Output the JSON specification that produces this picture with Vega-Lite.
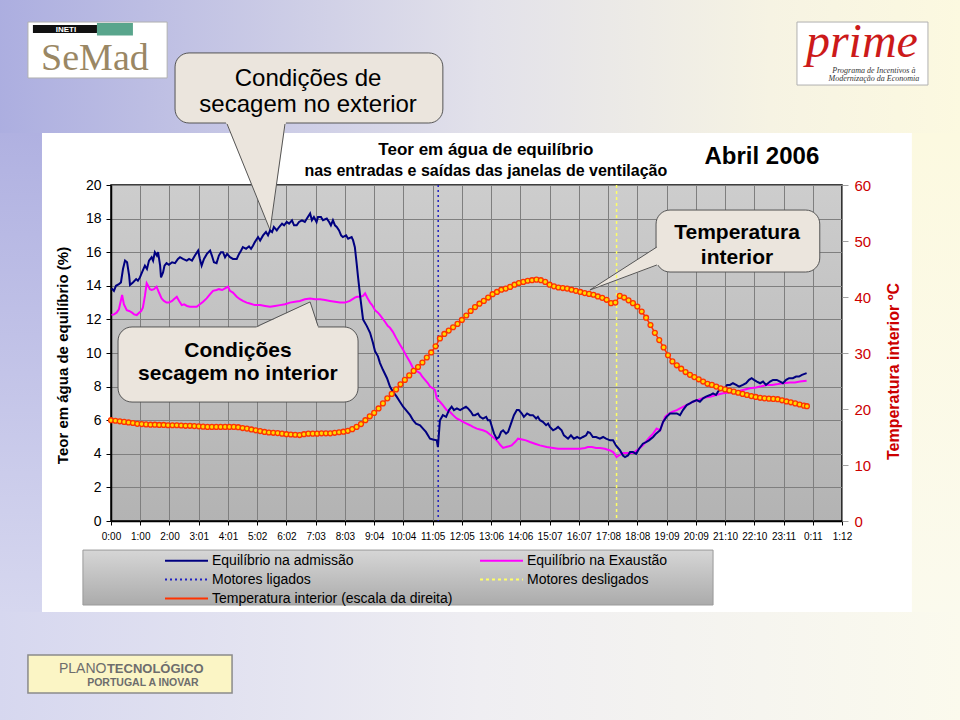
{
"$schema":"https://vega.github.io/schema/vega-lite/v6.json",
"width":731,"height":336,
"autosize":{"type":"none"},
"padding":{"left":111,"top":185,"right":118,"bottom":199},
"background":"#ffffff",
"config":{"font":"Liberation Sans","view":{"stroke":"#000000","strokeWidth":1.5,"fill":{"gradient":"linear","x1":0,"y1":0,"x2":0,"y2":1,"stops":[{"offset":0,"color":"#cdcdcd"},{"offset":1,"color":"#b3b3b3"}]}}},
"datasets":{
"adm":[{"t":0.02,"v":13.85},{"t":0.10,"v":13.7},{"t":0.17,"v":14.0},{"t":0.27,"v":14.1},{"t":0.34,"v":14.2},{"t":0.41,"v":15.0},{"t":0.48,"v":15.5},{"t":0.55,"v":15.4},{"t":0.62,"v":14.6},{"t":0.65,"v":14.05},{"t":0.75,"v":14.2},{"t":0.86,"v":14.4},{"t":0.92,"v":14.3},{"t":0.99,"v":14.5},{"t":1.06,"v":14.8},{"t":1.16,"v":15.2},{"t":1.23,"v":15.0},{"t":1.30,"v":15.5},{"t":1.39,"v":15.7},{"t":1.44,"v":15.5},{"t":1.50,"v":16.0},{"t":1.57,"v":15.8},{"t":1.61,"v":16.0},{"t":1.68,"v":15.2},{"t":1.71,"v":14.5},{"t":1.78,"v":14.8},{"t":1.83,"v":15.2},{"t":1.90,"v":15.35},{"t":1.98,"v":15.25},{"t":2.09,"v":15.4},{"t":2.19,"v":15.35},{"t":2.29,"v":15.6},{"t":2.36,"v":15.7},{"t":2.46,"v":15.6},{"t":2.59,"v":15.5},{"t":2.67,"v":15.6},{"t":2.77,"v":15.5},{"t":2.87,"v":15.8},{"t":2.98,"v":16.1},{"t":3.04,"v":15.6},{"t":3.10,"v":15.2},{"t":3.18,"v":15.6},{"t":3.28,"v":15.9},{"t":3.39,"v":16.1},{"t":3.45,"v":15.8},{"t":3.52,"v":15.4},{"t":3.61,"v":15.35},{"t":3.69,"v":15.8},{"t":3.76,"v":16.0},{"t":3.83,"v":16.0},{"t":3.90,"v":15.7},{"t":3.97,"v":15.9},{"t":4.07,"v":15.7},{"t":4.17,"v":15.6},{"t":4.30,"v":15.6},{"t":4.38,"v":15.9},{"t":4.45,"v":16.1},{"t":4.51,"v":16.3},{"t":4.62,"v":16.2},{"t":4.72,"v":16.35},{"t":4.79,"v":16.2},{"t":4.86,"v":16.4},{"t":4.92,"v":16.6},{"t":5.03,"v":16.9},{"t":5.10,"v":16.7},{"t":5.20,"v":17.0},{"t":5.30,"v":17.2},{"t":5.37,"v":17.0},{"t":5.44,"v":17.3},{"t":5.51,"v":17.2},{"t":5.57,"v":17.5},{"t":5.67,"v":17.3},{"t":5.75,"v":17.5},{"t":5.85,"v":17.7},{"t":5.92,"v":17.6},{"t":6.01,"v":17.8},{"t":6.09,"v":17.7},{"t":6.19,"v":17.9},{"t":6.26,"v":17.6},{"t":6.35,"v":17.6},{"t":6.43,"v":17.8},{"t":6.53,"v":17.9},{"t":6.63,"v":17.8},{"t":6.70,"v":18.0},{"t":6.81,"v":18.3},{"t":6.87,"v":17.9},{"t":6.94,"v":18.1},{"t":7.03,"v":17.8},{"t":7.08,"v":18.1},{"t":7.18,"v":18.1},{"t":7.25,"v":17.9},{"t":7.38,"v":18.0},{"t":7.46,"v":17.8},{"t":7.52,"v":17.6},{"t":7.59,"v":17.9},{"t":7.66,"v":17.6},{"t":7.72,"v":17.5},{"t":7.80,"v":17.3},{"t":7.87,"v":17.0},{"t":7.93,"v":16.9},{"t":8.04,"v":17.0},{"t":8.11,"v":16.8},{"t":8.23,"v":16.9},{"t":8.28,"v":16.7},{"t":8.34,"v":16.3},{"t":8.40,"v":15.35},{"t":8.45,"v":14.5},{"t":8.52,"v":13.4},{"t":8.62,"v":12.0},{"t":8.75,"v":11.6},{"t":8.86,"v":11.2},{"t":8.96,"v":10.6},{"t":9.03,"v":10.1},{"t":9.13,"v":9.8},{"t":9.20,"v":9.4},{"t":9.30,"v":9.0},{"t":9.44,"v":8.5},{"t":9.54,"v":8.0},{"t":9.64,"v":7.7},{"t":9.77,"v":7.4},{"t":9.88,"v":7.1},{"t":9.99,"v":6.8},{"t":10.09,"v":6.6},{"t":10.23,"v":6.3},{"t":10.33,"v":6.0},{"t":10.43,"v":5.8},{"t":10.57,"v":5.7},{"t":10.67,"v":5.5},{"t":10.77,"v":5.3},{"t":10.91,"v":4.9},{"t":11.01,"v":4.85},{"t":11.14,"v":4.8},{"t":11.18,"v":4.4},{"t":11.25,"v":6.0},{"t":11.35,"v":6.3},{"t":11.46,"v":6.2},{"t":11.56,"v":6.6},{"t":11.65,"v":6.8},{"t":11.73,"v":6.6},{"t":11.83,"v":6.7},{"t":11.94,"v":6.6},{"t":12.04,"v":6.7},{"t":12.14,"v":6.8},{"t":12.21,"v":6.7},{"t":12.31,"v":6.5},{"t":12.38,"v":6.3},{"t":12.45,"v":6.3},{"t":12.55,"v":6.4},{"t":12.62,"v":6.2},{"t":12.72,"v":6.1},{"t":12.83,"v":6.2},{"t":12.89,"v":6.0},{"t":12.96,"v":6.0},{"t":13.03,"v":5.6},{"t":13.10,"v":5.2},{"t":13.19,"v":4.9},{"t":13.27,"v":5.0},{"t":13.34,"v":5.3},{"t":13.41,"v":5.4},{"t":13.51,"v":5.2},{"t":13.58,"v":5.3},{"t":13.68,"v":5.8},{"t":13.78,"v":6.3},{"t":13.88,"v":6.6},{"t":13.95,"v":6.6},{"t":14.05,"v":6.4},{"t":14.12,"v":6.2},{"t":14.23,"v":6.4},{"t":14.33,"v":6.3},{"t":14.43,"v":6.3},{"t":14.54,"v":6.1},{"t":14.60,"v":6.2},{"t":14.67,"v":6.0},{"t":14.77,"v":5.9},{"t":14.88,"v":5.7},{"t":14.95,"v":5.8},{"t":15.01,"v":5.6},{"t":15.12,"v":5.4},{"t":15.22,"v":5.5},{"t":15.29,"v":5.6},{"t":15.41,"v":5.4},{"t":15.49,"v":5.1},{"t":15.56,"v":5.0},{"t":15.63,"v":4.9},{"t":15.73,"v":5.1},{"t":15.83,"v":4.9},{"t":15.94,"v":5.0},{"t":16.04,"v":4.9},{"t":16.14,"v":5.0},{"t":16.25,"v":5.1},{"t":16.31,"v":5.3},{"t":16.38,"v":5.25},{"t":16.48,"v":5.0},{"t":16.59,"v":5.0},{"t":16.72,"v":4.9},{"t":16.83,"v":5.0},{"t":16.93,"v":4.9},{"t":17.07,"v":4.8},{"t":17.17,"v":4.8},{"t":17.27,"v":4.5},{"t":17.41,"v":4.2},{"t":17.51,"v":3.9},{"t":17.58,"v":3.8},{"t":17.68,"v":3.9},{"t":17.75,"v":4.1},{"t":17.85,"v":4.1},{"t":17.96,"v":4.0},{"t":18.06,"v":4.3},{"t":18.19,"v":4.6},{"t":18.30,"v":4.7},{"t":18.40,"v":4.8},{"t":18.54,"v":5.0},{"t":18.64,"v":5.2},{"t":18.78,"v":5.4},{"t":18.88,"v":5.9},{"t":19.00,"v":6.2},{"t":19.12,"v":6.4},{"t":19.22,"v":6.4},{"t":19.35,"v":6.4},{"t":19.46,"v":6.3},{"t":19.56,"v":6.6},{"t":19.69,"v":6.9},{"t":19.80,"v":7.0},{"t":19.90,"v":7.1},{"t":20.03,"v":7.2},{"t":20.14,"v":7.1},{"t":20.25,"v":7.3},{"t":20.35,"v":7.4},{"t":20.49,"v":7.5},{"t":20.59,"v":7.6},{"t":20.69,"v":7.5},{"t":20.76,"v":7.7},{"t":20.86,"v":7.9},{"t":20.96,"v":7.8},{"t":21.07,"v":8.1},{"t":21.17,"v":8.1},{"t":21.27,"v":8.2},{"t":21.38,"v":8.1},{"t":21.48,"v":8.0},{"t":21.61,"v":8.1},{"t":21.72,"v":8.2},{"t":21.82,"v":8.4},{"t":21.91,"v":8.5},{"t":21.99,"v":8.4},{"t":22.09,"v":8.3},{"t":22.20,"v":8.2},{"t":22.30,"v":8.3},{"t":22.40,"v":8.1},{"t":22.54,"v":8.3},{"t":22.64,"v":8.4},{"t":22.77,"v":8.4},{"t":22.88,"v":8.3},{"t":22.98,"v":8.2},{"t":23.09,"v":8.4},{"t":23.19,"v":8.5},{"t":23.32,"v":8.5},{"t":23.43,"v":8.6},{"t":23.53,"v":8.6},{"t":23.63,"v":8.7},{"t":23.79,"v":8.8}],
"exa":[{"t":0.02,"v":12.26},{"t":0.10,"v":12.3},{"t":0.19,"v":12.4},{"t":0.27,"v":12.6},{"t":0.38,"v":13.45},{"t":0.44,"v":12.9},{"t":0.54,"v":12.55},{"t":0.62,"v":12.5},{"t":0.72,"v":12.4},{"t":0.79,"v":12.3},{"t":0.88,"v":12.26},{"t":0.96,"v":12.4},{"t":1.03,"v":12.5},{"t":1.09,"v":12.7},{"t":1.16,"v":13.4},{"t":1.22,"v":14.15},{"t":1.27,"v":14.0},{"t":1.33,"v":13.8},{"t":1.39,"v":13.75},{"t":1.47,"v":13.8},{"t":1.56,"v":13.95},{"t":1.64,"v":13.6},{"t":1.73,"v":13.25},{"t":1.81,"v":13.1},{"t":1.90,"v":13.0},{"t":1.98,"v":13.0},{"t":2.09,"v":13.1},{"t":2.15,"v":13.2},{"t":2.25,"v":13.35},{"t":2.33,"v":13.1},{"t":2.42,"v":12.85},{"t":2.50,"v":12.9},{"t":2.60,"v":12.8},{"t":2.70,"v":12.75},{"t":2.80,"v":12.75},{"t":2.93,"v":12.75},{"t":3.04,"v":12.9},{"t":3.15,"v":13.05},{"t":3.27,"v":13.25},{"t":3.39,"v":13.5},{"t":3.49,"v":13.7},{"t":3.61,"v":13.75},{"t":3.69,"v":13.8},{"t":3.80,"v":13.75},{"t":3.90,"v":13.85},{"t":4.00,"v":13.95},{"t":4.07,"v":13.7},{"t":4.17,"v":13.6},{"t":4.30,"v":13.35},{"t":4.41,"v":13.2},{"t":4.51,"v":13.1},{"t":4.64,"v":13.0},{"t":4.75,"v":12.95},{"t":4.92,"v":12.85},{"t":5.10,"v":12.85},{"t":5.27,"v":12.8},{"t":5.44,"v":12.75},{"t":5.61,"v":12.8},{"t":5.78,"v":12.85},{"t":5.95,"v":12.9},{"t":6.12,"v":13.0},{"t":6.29,"v":13.05},{"t":6.46,"v":13.1},{"t":6.63,"v":13.2},{"t":6.81,"v":13.25},{"t":6.98,"v":13.2},{"t":7.15,"v":13.2},{"t":7.32,"v":13.15},{"t":7.49,"v":13.1},{"t":7.66,"v":13.05},{"t":7.83,"v":13.0},{"t":8.00,"v":13.0},{"t":8.17,"v":13.1},{"t":8.34,"v":13.3},{"t":8.41,"v":13.35},{"t":8.52,"v":13.35},{"t":8.62,"v":13.4},{"t":8.69,"v":13.55},{"t":8.76,"v":13.3},{"t":8.86,"v":13.0},{"t":8.93,"v":12.85},{"t":9.03,"v":12.55},{"t":9.13,"v":12.4},{"t":9.20,"v":12.26},{"t":9.37,"v":11.86},{"t":9.47,"v":11.6},{"t":9.54,"v":11.5},{"t":9.64,"v":11.26},{"t":9.75,"v":10.9},{"t":9.88,"v":10.5},{"t":9.99,"v":10.2},{"t":10.11,"v":9.8},{"t":10.23,"v":9.45},{"t":10.33,"v":9.1},{"t":10.43,"v":8.95},{"t":10.57,"v":8.8},{"t":10.64,"v":8.6},{"t":10.74,"v":8.4},{"t":10.84,"v":8.2},{"t":10.91,"v":8.0},{"t":11.01,"v":7.9},{"t":11.08,"v":7.8},{"t":11.14,"v":7.3},{"t":11.25,"v":7.1},{"t":11.35,"v":6.9},{"t":11.48,"v":6.6},{"t":11.59,"v":6.5},{"t":11.70,"v":6.3},{"t":11.82,"v":6.1},{"t":11.94,"v":6.0},{"t":12.04,"v":5.9},{"t":12.16,"v":5.8},{"t":12.28,"v":5.7},{"t":12.38,"v":5.6},{"t":12.51,"v":5.5},{"t":12.62,"v":5.45},{"t":12.72,"v":5.4},{"t":12.85,"v":5.3},{"t":12.96,"v":5.15},{"t":13.06,"v":5.0},{"t":13.13,"v":4.9},{"t":13.24,"v":4.7},{"t":13.30,"v":4.55},{"t":13.41,"v":4.35},{"t":13.51,"v":4.4},{"t":13.61,"v":4.45},{"t":13.70,"v":4.5},{"t":13.82,"v":4.7},{"t":13.92,"v":4.9},{"t":14.06,"v":4.85},{"t":14.19,"v":4.8},{"t":14.33,"v":4.7},{"t":14.50,"v":4.6},{"t":14.67,"v":4.5},{"t":14.90,"v":4.4},{"t":15.12,"v":4.35},{"t":15.29,"v":4.3},{"t":15.46,"v":4.3},{"t":15.70,"v":4.3},{"t":15.87,"v":4.3},{"t":16.04,"v":4.3},{"t":16.21,"v":4.35},{"t":16.31,"v":4.4},{"t":16.45,"v":4.4},{"t":16.59,"v":4.35},{"t":16.72,"v":4.35},{"t":16.89,"v":4.3},{"t":17.07,"v":4.2},{"t":17.17,"v":4.1},{"t":17.24,"v":3.95},{"t":17.29,"v":3.8},{"t":17.37,"v":3.9},{"t":17.51,"v":4.05},{"t":17.68,"v":4.05},{"t":17.85,"v":4.05},{"t":18.02,"v":4.25},{"t":18.19,"v":4.5},{"t":18.33,"v":4.8},{"t":18.43,"v":5.0},{"t":18.54,"v":5.2},{"t":18.66,"v":5.5},{"t":18.78,"v":5.4},{"t":18.84,"v":5.7},{"t":18.95,"v":6.2},{"t":19.05,"v":6.35},{"t":19.19,"v":6.5},{"t":19.35,"v":6.6},{"t":19.46,"v":6.7},{"t":19.63,"v":6.85},{"t":19.80,"v":7.0},{"t":19.90,"v":7.1},{"t":20.14,"v":7.25},{"t":20.31,"v":7.35},{"t":20.49,"v":7.4},{"t":20.69,"v":7.5},{"t":20.93,"v":7.6},{"t":21.17,"v":7.65},{"t":21.40,"v":7.7},{"t":21.61,"v":7.8},{"t":21.85,"v":7.9},{"t":22.06,"v":7.95},{"t":22.20,"v":8.0},{"t":22.42,"v":8.1},{"t":22.61,"v":8.1},{"t":22.81,"v":8.15},{"t":22.98,"v":8.2},{"t":23.22,"v":8.25},{"t":23.39,"v":8.25},{"t":23.56,"v":8.3},{"t":23.79,"v":8.35}],
"temp":[{"t":0.00,"T":18.0},{"t":0.15,"T":17.9},{"t":0.30,"T":17.8},{"t":0.45,"T":17.7},{"t":0.60,"T":17.6},{"t":0.75,"T":17.5},{"t":0.90,"T":17.35},{"t":1.05,"T":17.3},{"t":1.20,"T":17.25},{"t":1.35,"T":17.2},{"t":1.50,"T":17.2},{"t":1.65,"T":17.15},{"t":1.80,"T":17.15},{"t":1.95,"T":17.1},{"t":2.10,"T":17.1},{"t":2.25,"T":17.1},{"t":2.40,"T":17.05},{"t":2.55,"T":17.0},{"t":2.70,"T":17.0},{"t":2.85,"T":16.95},{"t":3.00,"T":16.9},{"t":3.15,"T":16.85},{"t":3.30,"T":16.8},{"t":3.45,"T":16.8},{"t":3.60,"T":16.8},{"t":3.75,"T":16.8},{"t":3.90,"T":16.8},{"t":4.05,"T":16.8},{"t":4.20,"T":16.8},{"t":4.35,"T":16.75},{"t":4.50,"T":16.6},{"t":4.65,"T":16.5},{"t":4.80,"T":16.35},{"t":4.95,"T":16.2},{"t":5.10,"T":16.05},{"t":5.25,"T":15.9},{"t":5.40,"T":15.8},{"t":5.55,"T":15.75},{"t":5.70,"T":15.7},{"t":5.85,"T":15.6},{"t":6.00,"T":15.5},{"t":6.15,"T":15.45},{"t":6.30,"T":15.4},{"t":6.45,"T":15.35},{"t":6.60,"T":15.5},{"t":6.75,"T":15.6},{"t":6.90,"T":15.6},{"t":7.05,"T":15.6},{"t":7.20,"T":15.65},{"t":7.35,"T":15.65},{"t":7.50,"T":15.65},{"t":7.65,"T":15.75},{"t":7.80,"T":15.85},{"t":7.95,"T":15.95},{"t":8.10,"T":16.1},{"t":8.25,"T":16.4},{"t":8.40,"T":16.8},{"t":8.55,"T":17.3},{"t":8.70,"T":18.0},{"t":8.85,"T":18.7},{"t":9.00,"T":19.3},{"t":9.15,"T":20.1},{"t":9.30,"T":21.0},{"t":9.45,"T":21.9},{"t":9.60,"T":22.7},{"t":9.75,"T":23.5},{"t":9.90,"T":24.4},{"t":10.05,"T":25.2},{"t":10.20,"T":26.0},{"t":10.35,"T":26.8},{"t":10.50,"T":27.5},{"t":10.65,"T":28.3},{"t":10.80,"T":29.2},{"t":10.95,"T":30.1},{"t":11.10,"T":31.2},{"t":11.25,"T":32.6},{"t":11.40,"T":33.4},{"t":11.55,"T":34.0},{"t":11.70,"T":34.6},{"t":11.85,"T":35.2},{"t":12.00,"T":35.9},{"t":12.15,"T":36.7},{"t":12.30,"T":37.5},{"t":12.45,"T":38.2},{"t":12.60,"T":38.8},{"t":12.75,"T":39.3},{"t":12.90,"T":39.9},{"t":13.05,"T":40.5},{"t":13.20,"T":40.9},{"t":13.35,"T":41.3},{"t":13.50,"T":41.5},{"t":13.65,"T":41.8},{"t":13.80,"T":42.2},{"t":13.95,"T":42.5},{"t":14.10,"T":42.7},{"t":14.25,"T":42.9},{"t":14.40,"T":43.0},{"t":14.55,"T":43.1},{"t":14.70,"T":43.0},{"t":14.85,"T":42.7},{"t":15.00,"T":42.2},{"t":15.15,"T":41.9},{"t":15.30,"T":41.7},{"t":15.45,"T":41.6},{"t":15.60,"T":41.5},{"t":15.75,"T":41.3},{"t":15.90,"T":41.1},{"t":16.05,"T":40.9},{"t":16.20,"T":40.7},{"t":16.35,"T":40.55},{"t":16.50,"T":40.4},{"t":16.65,"T":40.1},{"t":16.80,"T":39.85},{"t":16.95,"T":39.5},{"t":17.10,"T":38.9},{"t":17.25,"T":39.0},{"t":17.40,"T":40.2},{"t":17.55,"T":39.9},{"t":17.70,"T":39.4},{"t":17.85,"T":38.9},{"t":18.00,"T":38.3},{"t":18.15,"T":37.4},{"t":18.30,"T":36.3},{"t":18.45,"T":35.0},{"t":18.60,"T":33.6},{"t":18.75,"T":32.3},{"t":18.90,"T":31.0},{"t":19.05,"T":29.6},{"t":19.20,"T":28.5},{"t":19.35,"T":27.8},{"t":19.50,"T":27.2},{"t":19.65,"T":26.6},{"t":19.80,"T":26.1},{"t":19.95,"T":25.7},{"t":20.10,"T":25.3},{"t":20.25,"T":24.9},{"t":20.40,"T":24.5},{"t":20.55,"T":24.3},{"t":20.70,"T":24.0},{"t":20.85,"T":23.7},{"t":21.00,"T":23.5},{"t":21.15,"T":23.3},{"t":21.30,"T":23.1},{"t":21.45,"T":22.9},{"t":21.60,"T":22.7},{"t":21.75,"T":22.5},{"t":21.90,"T":22.3},{"t":22.05,"T":22.15},{"t":22.20,"T":22.0},{"t":22.35,"T":21.9},{"t":22.50,"T":21.85},{"t":22.65,"T":21.8},{"t":22.80,"T":21.75},{"t":22.95,"T":21.55},{"t":23.10,"T":21.35},{"t":23.25,"T":21.2},{"t":23.40,"T":21.0},{"t":23.55,"T":20.8},{"t":23.70,"T":20.6},{"t":23.80,"T":20.5}]
},
"resolve":{"scale":{"y":"independent"}},
"layer":[
{"data":{"values":[{"x":-3.85,"x2":29.1,"y":23.1,"y2":31.2}]},"mark":{"type":"rect","clip":false,"fill":{"gradient":"linear","x1":0,"y1":0,"x2":1,"y2":0,"stops":[{"offset":0,"color":"#acaee0"},{"offset":0.5,"color":"#e2e1ea"},{"offset":0.8,"color":"#f6f3e3"},{"offset":1,"color":"#fcf9e0"}]}},"encoding":{"x":{"field":"x","type":"quantitative","scale":{"domain":[0,25],"nice":false},"axis":{"values":[0,1,2,3,4,5,6,7,8,9,10,11,12,13,14,15,16,17,18,19,20,21,22,23,24,25],"tickCount":40,"labelExpr":"['0:00','1:00','2:00','3:01','4:01','5:02','6:02','7:03','8:03','9:04','10:04','11:05','12:05','13:06','14:06','15:07','16:07','17:08','18:08','19:09','20:09','21:10','22:10','23:11','0:11','1:12'][datum.value]","grid":true,"gridColor":"#7f7f7f","gridWidth":1,"domainColor":"#000000","domainWidth":1.5,"tickColor":"#000000","tickSize":4,"labelFontSize":10,"labelFont":"Liberation Sans Narrow, Liberation Sans","labelColor":"#000000","labelPadding":6,"labelFlush":false,"labelOverlap":false,"labelBound":false,"title":null}},"x2":{"field":"x2"},"y":{"field":"y","type":"quantitative","scale":{"domain":[0,20],"nice":false},"axis":null},"y2":{"field":"y2"}}},
{"data":{"values":[{"x":-3.85,"x2":29.1,"y":-5.42,"y2":-12.0}]},"mark":{"type":"rect","clip":false,"fill":{"gradient":"linear","x1":0,"y1":0,"x2":1,"y2":0,"stops":[{"offset":0,"color":"#d6d7ef"},{"offset":0.5,"color":"#efeef2"},{"offset":1,"color":"#fbfaed"}]}},"encoding":{"x":{"field":"x","type":"quantitative","scale":{"domain":[0,25],"nice":false}},"x2":{"field":"x2"},"y":{"field":"y","type":"quantitative","scale":{"domain":[0,20],"nice":false},"axis":null},"y2":{"field":"y2"}}},
{"data":{"values":[{"x":-3.85,"x2":-2.36,"y":-5.42,"y2":23.1}]},"mark":{"type":"rect","clip":false,"fill":{"gradient":"linear","x1":0,"y1":0,"x2":0,"y2":1,"stops":[{"offset":0,"color":"#b0b1e1"},{"offset":1,"color":"#d6d7ef"}]}},"encoding":{"x":{"field":"x","type":"quantitative","scale":{"domain":[0,25],"nice":false}},"x2":{"field":"x2"},"y":{"field":"y","type":"quantitative","scale":{"domain":[0,20],"nice":false},"axis":null},"y2":{"field":"y2"}}},
{"data":{"values":[{"x":27.39,"x2":29.1,"y":-5.42,"y2":23.1}]},"mark":{"type":"rect","clip":false,"fill":{"gradient":"linear","x1":0,"y1":0,"x2":0,"y2":1,"stops":[{"offset":0,"color":"#fcf9e0"},{"offset":1,"color":"#fbfaed"}]}},"encoding":{"x":{"field":"x","type":"quantitative","scale":{"domain":[0,25],"nice":false}},"x2":{"field":"x2"},"y":{"field":"y","type":"quantitative","scale":{"domain":[0,20],"nice":false},"axis":null},"y2":{"field":"y2"}}},
{"data":{"values":[{"x":-2.84,"x2":1.92,"y":29.70,"y2":26.37},{"x":23.46,"x2":27.94,"y":29.70,"y2":25.95}]},"mark":{"type":"rect","clip":false,"fill":"#ffffff","stroke":"#b0b0b0","strokeWidth":1},"encoding":{"x":{"field":"x","type":"quantitative","scale":{"domain":[0,25],"nice":false}},"x2":{"field":"x2"},"y":{"field":"y","type":"quantitative","scale":{"domain":[0,20],"nice":false},"axis":null},"y2":{"field":"y2"}}},
{"data":{"values":[{"x":-2.67,"x2":-0.48,"y":29.52,"y2":29.05}]},"mark":{"type":"rect","clip":false,"fill":"#111111"},"encoding":{"x":{"field":"x","type":"quantitative","scale":{"domain":[0,25],"nice":false}},"x2":{"field":"x2"},"y":{"field":"y","type":"quantitative","scale":{"domain":[0,20],"nice":false},"axis":null},"y2":{"field":"y2"}}},
{"data":{"values":[{"x":-0.48,"x2":0.75,"y":29.64,"y2":28.9}]},"mark":{"type":"rect","clip":false,"fill":"#2f8f6f","opacity":0.8},"encoding":{"x":{"field":"x","type":"quantitative","scale":{"domain":[0,25],"nice":false}},"x2":{"field":"x2"},"y":{"field":"y","type":"quantitative","scale":{"domain":[0,20],"nice":false},"axis":null},"y2":{"field":"y2"}}},
{"data":{"values":[{"x":-2.84,"x2":4.14,"y":-7.98,"y2":-10.24}]},"mark":{"type":"rect","clip":false,"fill":"#fbf5c5","stroke":"#8a8a8a","strokeWidth":1.5},"encoding":{"x":{"field":"x","type":"quantitative","scale":{"domain":[0,25],"nice":false}},"x2":{"field":"x2"},"y":{"field":"y","type":"quantitative","scale":{"domain":[0,20],"nice":false},"axis":null},"y2":{"field":"y2"}}},
{"data":{"values":[{"x":-0.96,"x2":20.59,"y":-1.73,"y2":-5.0}]},"mark":{"type":"rect","clip":false,"stroke":"#9a9a9a","strokeWidth":1,"fill":{"gradient":"linear","x1":0,"y1":0,"x2":0,"y2":1,"stops":[{"offset":0,"color":"#d6d6d6"},{"offset":1,"color":"#ababab"}]}},"encoding":{"x":{"field":"x","type":"quantitative","scale":{"domain":[0,25],"nice":false}},"x2":{"field":"x2"},"y":{"field":"y","type":"quantitative","scale":{"domain":[0,20],"nice":false},"axis":null},"y2":{"field":"y2"}}},
{"data":{"values":[{"x":2.19,"x2":11.35,"y":27.86,"y2":23.69},{"x":0.24,"x2":8.45,"y":11.55,"y2":7.08},{"x":18.64,"x2":24.24,"y":18.51,"y2":14.82}]},"mark":{"type":"rect","clip":false,"fill":"#ebe5dd","stroke":"#555555","strokeWidth":1,"cornerRadius":14},"encoding":{"x":{"field":"x","type":"quantitative","scale":{"domain":[0,25],"nice":false}},"x2":{"field":"x2"},"y":{"field":"y","type":"quantitative","scale":{"domain":[0,20],"nice":false},"axis":null},"y2":{"field":"y2"}}},
{"data":{"values":[{"id":"a","py":23.81,"xa":3.91,"xb":5.99},{"id":"a","py":17.32,"xa":5.44,"xb":5.44},{"id":"b","py":11.43,"xa":4.88,"xb":7.10},{"id":"b","py":13.04,"xa":6.81,"xb":6.81}]},"mark":{"type":"area","orient":"horizontal","clip":false,"fill":"#ebe5dd"},"encoding":{"y":{"field":"py","type":"quantitative","scale":{"domain":[0,20],"nice":false},"axis":null},"x":{"field":"xa","type":"quantitative","scale":{"domain":[0,25],"nice":false}},"x2":{"field":"xb"},"detail":{"field":"id"}}},
{"data":{"values":[{"px":16.38,"ya":13.75,"yb":13.75},{"px":18.74,"ya":16.39,"yb":15.26}]},"mark":{"type":"area","orient":"vertical","clip":false,"fill":"#ebe5dd"},"encoding":{"x":{"field":"px","type":"quantitative","scale":{"domain":[0,25],"nice":false}},"y":{"field":"ya","type":"quantitative","scale":{"domain":[0,20],"nice":false},"axis":null},"y2":{"field":"yb"}}},
{"data":{"values":[{"xa":3.97,"ya":23.63,"xb":5.44,"yb":17.32},{"xa":5.95,"ya":23.63,"xb":5.44,"yb":17.32},{"xa":5.03,"ya":11.61,"xb":6.81,"yb":13.04},{"xa":7.08,"ya":11.61,"xb":6.81,"yb":13.04},{"xa":18.67,"ya":16.31,"xb":16.38,"yb":13.75},{"xa":18.67,"ya":15.24,"xb":16.38,"yb":13.75}]},"mark":{"type":"rule","clip":false,"stroke":"#555555","strokeWidth":1},"encoding":{"x":{"field":"xa","type":"quantitative","scale":{"domain":[0,25],"nice":false}},"y":{"field":"ya","type":"quantitative","scale":{"domain":[0,20],"nice":false},"axis":null},"x2":{"field":"xb"},"y2":{"field":"yb"}}},
{"data":{"values":[{"x":-1.54,"y":29.11,"label":"INETI"}]},"mark":{"type":"text","clip":false,"align":"center","baseline":"alphabetic","fontSize":8,"fontWeight":"bold","color":"#ffffff"},"encoding":{"x":{"field":"x","type":"quantitative","scale":{"domain":[0,25],"nice":false}},"y":{"field":"y","type":"quantitative","scale":{"domain":[0,20],"nice":false},"axis":null},"text":{"field":"label"}}},
{"data":{"values":[{"x":-0.55,"y":26.85,"label":"SeMad"}]},"mark":{"type":"text","clip":false,"align":"center","baseline":"alphabetic","fontSize":38,"font":"Liberation Serif","color":"#9a8764"},"encoding":{"x":{"field":"x","type":"quantitative","scale":{"domain":[0,25],"nice":false}},"y":{"field":"y","type":"quantitative","scale":{"domain":[0,20],"nice":false},"axis":null},"text":{"field":"label"}}},
{"data":{"values":[{"x":25.68,"y":27.62,"label":"prime"}]},"mark":{"type":"text","clip":false,"align":"center","baseline":"alphabetic","fontSize":48,"font":"Liberation Serif","fontStyle":"italic","color":"#cc1a1a"},"encoding":{"x":{"field":"x","type":"quantitative","scale":{"domain":[0,25],"nice":false}},"y":{"field":"y","type":"quantitative","scale":{"domain":[0,20],"nice":false},"axis":null},"text":{"field":"label"}}},
{"data":{"values":[{"x":26.09,"y":26.67,"label":"Programa de Incentivos à"},{"x":26.09,"y":26.19,"label":"Modernização da Economia"}]},"mark":{"type":"text","clip":false,"align":"center","baseline":"alphabetic","fontSize":8,"font":"Liberation Serif","fontStyle":"italic","color":"#333333"},"encoding":{"x":{"field":"x","type":"quantitative","scale":{"domain":[0,25],"nice":false}},"y":{"field":"y","type":"quantitative","scale":{"domain":[0,20],"nice":false},"axis":null},"text":{"field":"label"}}},
{"data":{"values":[{"x":-1.78,"y":-9.05,"label":"PLANO"}]},"mark":{"type":"text","clip":false,"align":"left","baseline":"alphabetic","fontSize":14,"color":"#6d6d6d"},"encoding":{"x":{"field":"x","type":"quantitative","scale":{"domain":[0,25],"nice":false}},"y":{"field":"y","type":"quantitative","scale":{"domain":[0,20],"nice":false},"axis":null},"text":{"field":"label"}}},
{"data":{"values":[{"x":-0.14,"y":-9.05,"label":"TECNOLÓGICO"}]},"mark":{"type":"text","clip":false,"align":"left","baseline":"alphabetic","fontSize":13,"fontWeight":"bold","color":"#6d6d6d"},"encoding":{"x":{"field":"x","type":"quantitative","scale":{"domain":[0,25],"nice":false}},"y":{"field":"y","type":"quantitative","scale":{"domain":[0,20],"nice":false},"axis":null},"text":{"field":"label"}}},
{"data":{"values":[{"x":1.09,"y":-9.82,"label":"PORTUGAL A INOVAR"}]},"mark":{"type":"text","clip":false,"align":"center","baseline":"alphabetic","fontSize":10.5,"fontWeight":"bold","color":"#6d6d6d"},"encoding":{"x":{"field":"x","type":"quantitative","scale":{"domain":[0,25],"nice":false}},"y":{"field":"y","type":"quantitative","scale":{"domain":[0,20],"nice":false},"axis":null},"text":{"field":"label"}}},
{"data":{"values":[{"x":12.82,"y":21.79,"label":"Teor em água de equilíbrio"}]},"mark":{"type":"text","clip":false,"align":"center","baseline":"alphabetic","fontSize":17,"fontWeight":"bold","color":"#000000"},"encoding":{"x":{"field":"x","type":"quantitative","scale":{"domain":[0,25],"nice":false}},"y":{"field":"y","type":"quantitative","scale":{"domain":[0,20],"nice":false},"axis":null},"text":{"field":"label"}}},
{"data":{"values":[{"x":12.82,"y":20.54,"label":"nas entradas e saídas das janelas de ventilação"}]},"mark":{"type":"text","clip":false,"align":"center","baseline":"alphabetic","fontSize":16,"fontWeight":"bold","color":"#000000"},"encoding":{"x":{"field":"x","type":"quantitative","scale":{"domain":[0,25],"nice":false}},"y":{"field":"y","type":"quantitative","scale":{"domain":[0,20],"nice":false},"axis":null},"text":{"field":"label"}}},
{"data":{"values":[{"x":22.26,"y":21.25,"label":"Abril 2006"}]},"mark":{"type":"text","clip":false,"align":"center","baseline":"alphabetic","fontSize":24,"fontWeight":"bold","color":"#000000"},"encoding":{"x":{"field":"x","type":"quantitative","scale":{"domain":[0,25],"nice":false}},"y":{"field":"y","type":"quantitative","scale":{"domain":[0,20],"nice":false},"axis":null},"text":{"field":"label"}}},
{"data":{"values":[{"x":6.74,"y":25.89,"label":"Condições de"},{"x":6.74,"y":24.35,"label":"secagem no exterior"}]},"mark":{"type":"text","clip":false,"align":"center","baseline":"alphabetic","fontSize":24,"color":"#000000"},"encoding":{"x":{"field":"x","type":"quantitative","scale":{"domain":[0,25],"nice":false}},"y":{"field":"y","type":"quantitative","scale":{"domain":[0,20],"nice":false},"axis":null},"text":{"field":"label"}}},
{"data":{"values":[{"x":4.34,"y":9.76,"label":"Condições"},{"x":4.34,"y":8.39,"label":"secagem no interior"},{"x":21.41,"y":16.79,"label":"Temperatura"},{"x":21.41,"y":15.30,"label":"interior"}]},"mark":{"type":"text","clip":false,"align":"center","baseline":"alphabetic","fontSize":21,"fontWeight":"bold","color":"#000000"},"encoding":{"x":{"field":"x","type":"quantitative","scale":{"domain":[0,25],"nice":false}},"y":{"field":"y","type":"quantitative","scale":{"domain":[0,20],"nice":false},"axis":null},"text":{"field":"label"}}},
{"data":{"values":[{"t":11.19,"s":"Motores ligados"},{"t":17.29,"s":"Motores desligados"}]},"mark":{"type":"rule","strokeWidth":1.5},"encoding":{"x":{"field":"t","type":"quantitative","scale":{"domain":[0,25],"nice":false}},"color":{"field":"s","type":"nominal","scale":{"domain":["Equilíbrio na admissão","Equilíbrio na Exaustão","Motores ligados","Motores desligados","Temperatura interior (escala da direita)"],"range":["#000080","#ff00ff","#2020c0","#ffff66","#ff3300"]}},"strokeDash":{"field":"s","type":"nominal","scale":{"domain":["Equilíbrio na admissão","Equilíbrio na Exaustão","Motores ligados","Motores desligados","Temperatura interior (escala da direita)"],"range":[[1,0],[1,0],[2,3],[3,3],[1,0]]},"legend":{"title":null,"orient":"none","legendX":67,"legendY":367,"direction":"horizontal","columns":2,"columnPadding":23,"rowPadding":3,"symbolType":"M-3,0H3","symbolSize":205,"symbolStrokeWidth":2,"labelFontSize":14,"labelFont":"Liberation Sans","labelColor":"#000000","labelOffset":17,"labelLimit":400,"padding":0}}}},
{"data":{"name":"exa"},"mark":{"type":"line","strokeWidth":2},"encoding":{"x":{"field":"t","type":"quantitative","scale":{"domain":[0,25],"nice":false}},"y":{"field":"v","type":"quantitative","scale":{"domain":[0,20],"nice":false},"axis":null},"color":{"datum":"Equilíbrio na Exaustão","type":"nominal","scale":{"domain":["Equilíbrio na admissão","Equilíbrio na Exaustão","Motores ligados","Motores desligados","Temperatura interior (escala da direita)"],"range":["#000080","#ff00ff","#2020c0","#ffff66","#ff3300"]}}}},
{"data":{"name":"adm"},"mark":{"type":"line","strokeWidth":2},"encoding":{"x":{"field":"t","type":"quantitative","scale":{"domain":[0,25],"nice":false},"axis":{"values":[0,1,2,3,4,5,6,7,8,9,10,11,12,13,14,15,16,17,18,19,20,21,22,23,24,25],"tickCount":40,"labelExpr":"['0:00','1:00','2:00','3:01','4:01','5:02','6:02','7:03','8:03','9:04','10:04','11:05','12:05','13:06','14:06','15:07','16:07','17:08','18:08','19:09','20:09','21:10','22:10','23:11','0:11','1:12'][datum.value]","grid":true,"gridColor":"#7f7f7f","gridWidth":1,"domainColor":"#000000","domainWidth":1.5,"tickColor":"#000000","tickSize":4,"labelFontSize":10,"labelFont":"Liberation Sans Narrow, Liberation Sans","labelColor":"#000000","labelPadding":6,"labelFlush":false,"labelOverlap":false,"labelBound":false,"title":null}},"y":{"field":"v","type":"quantitative","scale":{"domain":[0,20],"nice":false},"axis":{"values":[0,2,4,6,8,10,12,14,16,18,20],"tickCount":20,"grid":true,"gridColor":"#7f7f7f","gridWidth":1,"domainColor":"#000000","domainWidth":1.5,"tickColor":"#000000","tickSize":5,"labelFontSize":14,"labelColor":"#000000","labelPadding":5,"title":"Teor em água de equilíbrio (%)","titleFontSize":15,"titleFontWeight":"bold","titleColor":"#000000","titleX":-49,"titleY":170,"titleAngle":270,"titleAlign":"center","titleBaseline":"middle"}},"color":{"datum":"Equilíbrio na admissão","type":"nominal","scale":{"domain":["Equilíbrio na admissão","Equilíbrio na Exaustão","Motores ligados","Motores desligados","Temperatura interior (escala da direita)"],"range":["#000080","#ff00ff","#2020c0","#ffff66","#ff3300"]},"legend":{"title":null,"orient":"none","legendX":67,"legendY":367,"direction":"horizontal","columns":2,"columnPadding":23,"rowPadding":3,"symbolType":"M-3,0H3","symbolSize":205,"symbolStrokeWidth":2,"labelFontSize":14,"labelFont":"Liberation Sans","labelColor":"#000000","labelOffset":17,"labelLimit":400,"padding":0}}}},
{"data":{"name":"temp"},"mark":{"type":"line","strokeWidth":1.5},"encoding":{"x":{"field":"t","type":"quantitative","scale":{"domain":[0,25],"nice":false}},"y":{"field":"T","type":"quantitative","scale":{"domain":[0,60],"nice":false},"axis":{"orient":"right","values":[0,10,20,30,40,50,60],"tickCount":20,"grid":false,"domain":false,"labelColor":"#cc0000","labelFontSize":15,"tickColor":"#a0a0a0","tickSize":6,"labelPadding":6,"title":"Temperatura interior ºC","titleColor":"#cc0000","titleFontSize":16,"titleFontWeight":"bold","titleAngle":270,"titleX":51,"titleY":186,"titleAlign":"center","titleBaseline":"middle"}},"color":{"datum":"Temperatura interior (escala da direita)","type":"nominal","scale":{"domain":["Equilíbrio na admissão","Equilíbrio na Exaustão","Motores ligados","Motores desligados","Temperatura interior (escala da direita)"],"range":["#000080","#ff00ff","#2020c0","#ffff66","#ff3300"]}}}},
{"data":{"name":"temp"},"mark":{"type":"point","filled":true,"fill":"#ffd700","stroke":"#ff3300","strokeWidth":1.3,"size":24,"opacity":1},"encoding":{"x":{"field":"t","type":"quantitative","scale":{"domain":[0,25],"nice":false}},"y":{"field":"T","type":"quantitative","scale":{"domain":[0,60],"nice":false},"axis":null}}}
]
}
